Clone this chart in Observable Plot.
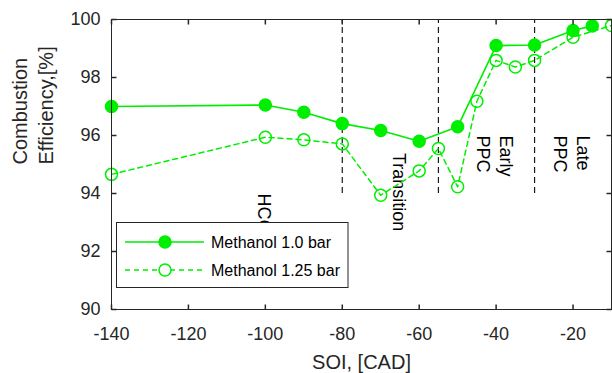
<!DOCTYPE html>
<html><head><meta charset="utf-8">
<script src="https://cdn.jsdelivr.net/npm/d3@7/dist/d3.min.js"></script>
<script src="https://cdn.jsdelivr.net/npm/@observablehq/plot@0.6/dist/plot.umd.min.js"></script>
<style>
html,body{margin:0;padding:0;background:#fff;}
#chart{position:relative;width:612px;height:373px;font-family:"Liberation Sans",Arial,sans-serif;}
#legend{position:absolute;left:0;top:0;pointer-events:none;}
</style></head><body><div id="chart"></div>
<script>
// Data
const soi1 = [-140, -100, -90, -80, -70, -60, -50, -40, -30, -20, -15];
const eff1 = [97.0, 97.05, 96.8, 96.41, 96.17, 95.8, 96.3, 99.1, 99.12, 99.62, 99.78];
const soi2 = [-140, -100, -90, -80, -70, -60, -55, -50, -45, -40, -35, -30, -20, -10];
const eff2 = [94.66, 95.94, 95.85, 95.71, 93.94, 94.78, 95.55, 94.23, 97.18, 98.59, 98.36, 98.59, 99.39, 99.79];
const seriesNames = ["Methanol 1.0 bar", "Methanol 1.25 bar"];
const phaseBoundaries = [-80, -55, -30];
const phaseLineRange = [94, 100];
const phaseLabels = ["HCCI", "Transition", "Early\nPPC", "Late\nPPC"];
const phaseLabelX = [-100, -65, -40, -20];
const phaseLabelY = [94, 95.4, 96, 96];
const xTicks = [-140, -120, -100, -80, -60, -40, -20];
const yTicks = [90, 92, 94, 96, 98, 100];
const xLabel = "SOI, [CAD]";
const yLabel = "Combustion\nEfficiency,[%]";

const GREEN = "#00ee00";
const INK = "#262626";
const FONT = '"Liberation Sans", Arial, sans-serif';
const TICK = 5;

const s1 = soi1.map((x, i) => ({x, y: eff1[i]}));
const s2 = soi2.map((x, i) => ({x, y: eff2[i]}));
const bounds = phaseBoundaries.map(x => ({x, y1: phaseLineRange[0], y2: phaseLineRange[1]}));
const labels = phaseLabels.map((t, i) => ({t, x: phaseLabelX[i], y: phaseLabelY[i]}));

// inward tick symbols
const tickSym = (dx, dy) => ({draw(ctx) { ctx.moveTo(0, 0); ctx.lineTo(dx * TICK, dy * TICK); }});
const tickUp = tickSym(0, -1), tickDown = tickSym(0, 1), tickRight = tickSym(1, 0), tickLeft = tickSym(-1, 0);

const plot = Plot.plot({
  width: 612, height: 373,
  marginLeft: 111, marginRight: 1, marginTop: 19, marginBottom: 64,
  style: {fontFamily: FONT, color: INK, background: "white"},
  x: {domain: [-140, -10], axis: null},
  y: {domain: [90, 100], axis: null},
  marks: [
    Plot.ruleX(bounds, {x: "x", y1: "y1", y2: "y2", stroke: "#1a1a1a", strokeWidth: 1.2, strokeDasharray: "6,4"}),
    Plot.text(labels, {x: "x", y: "y", text: "t", rotate: 90, textAnchor: "start", lineAnchor: "middle", fontSize: 18, lineHeight: 1.28, fill: "black"}),
    Plot.line(s2, {x: "x", y: "y", stroke: GREEN, strokeWidth: 1.5, strokeDasharray: "5,4"}),
    Plot.dot(s2, {x: "x", y: "y", r: 6, stroke: GREEN, strokeWidth: 1.5, fill: "none"}),
    Plot.line(s1, {x: "x", y: "y", stroke: GREEN, strokeWidth: 1.6}),
    Plot.dot(s1, {x: "x", y: "y", r: 6, fill: GREEN, stroke: GREEN}),
    Plot.frame({stroke: INK}),
    // inward ticks on all four sides
    Plot.dot(xTicks, {x: d => d, frameAnchor: "bottom", symbol: tickUp, stroke: INK, fill: "none"}),
    Plot.dot(xTicks, {x: d => d, frameAnchor: "top", symbol: tickDown, stroke: INK, fill: "none"}),
    Plot.dot(yTicks, {y: d => d, frameAnchor: "left", symbol: tickRight, stroke: INK, fill: "none"}),
    Plot.dot(yTicks, {y: d => d, frameAnchor: "right", symbol: tickLeft, stroke: INK, fill: "none"}),
    // tick labels
    Plot.text(xTicks, {x: d => d, text: d => String(d), frameAnchor: "bottom", lineAnchor: "top", dy: 18, fontSize: 18, fill: INK}),
    Plot.text(yTicks, {y: d => d, text: d => String(d), frameAnchor: "left", textAnchor: "end", dx: -11, fontSize: 18, fill: INK}),
    // axis titles
    Plot.text([xLabel], {frameAnchor: "bottom", dy: 53, fontSize: 20, lineAnchor: "middle", text: d => d, fill: INK}),
    Plot.text([yLabel], {frameAnchor: "left", dx: -80, rotate: -90, fontSize: 20, lineHeight: 1.3, lineAnchor: "middle", text: d => d, fill: INK})
  ]
});

const chart = document.getElementById("chart");
chart.appendChild(plot);

// Legend overlay (MATLAB-style box)
const svg = d3.select(chart).append("svg").attr("id", "legend").attr("width", 612).attr("height", 373);
svg.append("rect").attr("x", 116.5).attr("y", 222.5).attr("width", 231.5).attr("height", 65)
  .attr("fill", "white").attr("stroke", INK).attr("stroke-width", 1);
seriesNames.forEach((name, i) => {
  const y = 242 + i * 28;
  const g = svg.append("g");
  g.append("line").attr("x1", 125).attr("x2", 204).attr("y1", y).attr("y2", y)
    .attr("stroke", GREEN).attr("stroke-width", 1.5).attr("stroke-dasharray", i === 1 ? "5,4" : null);
  g.append("circle").attr("cx", 165).attr("cy", y).attr("r", 6)
    .attr("fill", i === 0 ? GREEN : "white").attr("stroke", GREEN).attr("stroke-width", 1.5);
  g.append("text").attr("x", 211).attr("y", y).attr("dy", "0.35em")
    .attr("font-family", FONT).attr("font-size", 16).attr("fill", "black").text(name);
});
</script></body></html>
